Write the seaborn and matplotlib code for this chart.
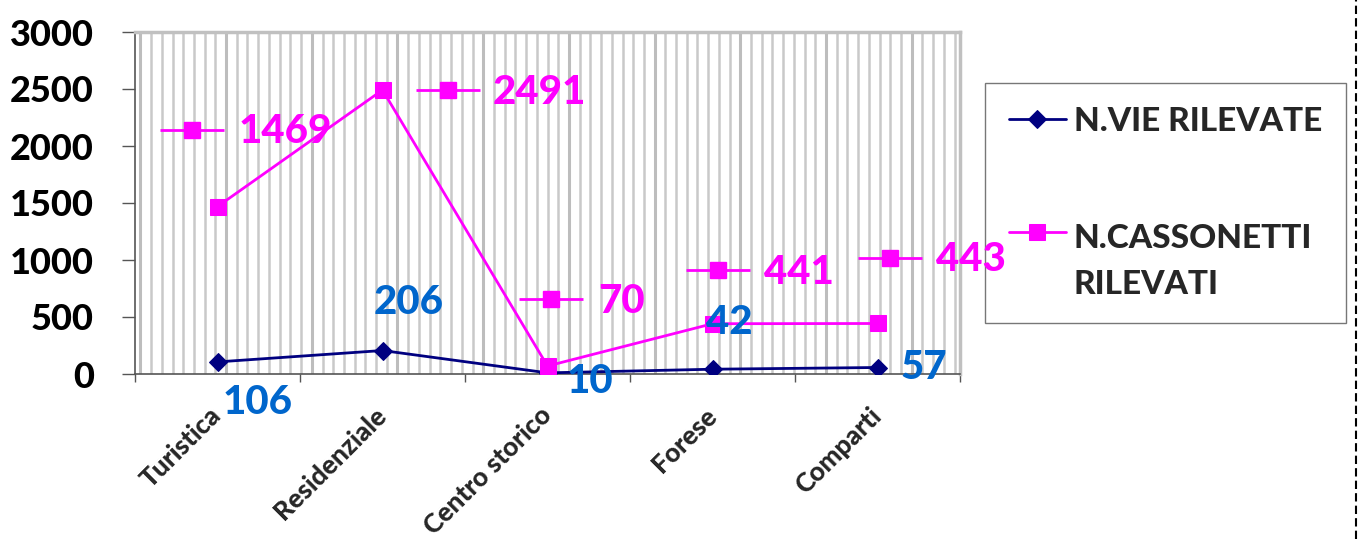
import numpy as np
import pandas as pd
import matplotlib
matplotlib.use("Agg")
import matplotlib.pyplot as plt
import matplotlib.transforms as mtransforms
from matplotlib.legend_handler import HandlerLine2D
import seaborn as sns

categories = ["Turistica", "Residenziale", "Centro storico", "Forese", "Comparti"]
vie = [106, 206, 10, 42, 57]
cassonetti = [1469, 2491, 70, 441, 443]
series_names = ["N.VIE RILEVATE", "N.CASSONETTI\nRILEVATI"]
yticks = [0, 500, 1000, 1500, 2000, 2500, 3000]

# label offsets in pixels (style only)
pink_key_off = [(-26, 77), (65, 0), (3, 67), (5, 54), (12, 65)]
pink_txt_off = [(21, 75), (110, -2), (51, 65), (51, 51), (58, 64)]
blue_txt_off = [(5, -41), (-9, 48), (19, -9), (-7, 47), (23, 0)]

FONT = "Lato"
NAVY = "#000080"
PINK = "#FF00FF"
BLUE = "#0066CC"
W8 = "black"

sns.set_theme(style="white")
plt.rcParams["font.family"] = [FONT, "DejaVu Sans"]
plt.rcParams["font.weight"] = "bold"

W, H = 1359, 539
fig = plt.figure(figsize=(W / 100, H / 100), dpi=100)
ax = fig.add_axes([135 / W, 1 - 374 / H, 825 / W, 342 / H])

df = pd.DataFrame({"cat": categories, "vie": vie, "cass": cassonetti})

# striped background
n_str = 77
xs = (np.arange(n_str) + 0.5) / n_str
ax.vlines(xs, 0, 1, transform=ax.transAxes, colors="#c9c9c9", lw=1.8, zorder=0)
ax.vlines(xs[::8], 0, 1, transform=ax.transAxes, colors="#bdbdbd", lw=2.2, zorder=0)

sns.lineplot(data=df, x="cat", y="vie", ax=ax, color=NAVY, lw=2, marker="D",
             markersize=9, markeredgecolor=NAVY, sort=False, label=series_names[0], zorder=3)
sns.lineplot(data=df, x="cat", y="cass", ax=ax, color=PINK, lw=2, marker="s",
             markersize=11, markeredgecolor=PINK, sort=False, label=series_names[1], zorder=3)

ax.set_xlim(-0.5, 4.5)
ax.set_ylim(0, 3000)
ax.set_xlabel("")
ax.set_ylabel("")
ax.set_yticks(yticks)
ax.set_yticklabels([str(v) for v in yticks], fontsize=26, fontweight=W8, color="black")
ax.tick_params(axis="y", direction="out", length=9.5, width=1, color="#555555", pad=20, left=True)
ax.set_xticks(range(len(categories)))
ax.set_xticklabels(categories, rotation=45, ha="right", va="center",
                   rotation_mode="anchor", fontsize=19, fontweight=W8)
ax.tick_params(axis="x", which="major", length=0, pad=27)
ax.set_xticks(np.arange(-0.5, 5, 1), minor=True)
ax.tick_params(axis="x", which="minor", direction="out", length=6, width=1, color="#555555", bottom=True)

for s in ["left", "bottom"]:
    ax.spines[s].set_color("#555555")
    ax.spines[s].set_linewidth(1.2)
for s in ["top", "right"]:
    ax.spines[s].set_color("#c0c0c0")
    ax.spines[s].set_linewidth(2.5)

# data labels
for i, (v, c) in enumerate(zip(cassonetti, categories)):
    kx, ky = pink_key_off[i]
    tr = mtransforms.offset_copy(ax.transData, fig=fig, x=kx, y=ky, units="dots")
    ax.plot([i], [v], transform=tr, marker="_", markersize=46, markeredgewidth=2,
            color=PINK, clip_on=False, zorder=7)
    ax.plot([i], [v], transform=tr, marker="s", markersize=11, color=PINK,
            clip_on=False, zorder=8)
    tx, ty = pink_txt_off[i]
    ax.annotate(str(v), (i, v), xytext=(tx, ty), textcoords="offset pixels",
                ha="left", va="center", color=PINK, fontsize=29, fontweight=W8,
                annotation_clip=False, zorder=9)

for i, v in enumerate(vie):
    tx, ty = blue_txt_off[i]
    ax.annotate(str(v), (i, v), xytext=(tx, ty), textcoords="offset pixels",
                ha="left", va="center", color=BLUE, fontsize=29, fontweight=W8,
                annotation_clip=False, zorder=9)


class ShiftedHandler(HandlerLine2D):
    def __init__(self, shift, **kw):
        super().__init__(**kw)
        self.shift = shift

    def create_artists(self, legend, orig_handle, xdescent, ydescent, width,
                       height, fontsize, trans):
        arts = super().create_artists(legend, orig_handle, xdescent, ydescent,
                                      width, height, fontsize, trans)
        for a in arts:
            a.set_ydata(np.asarray(a.get_ydata(), dtype=float) + self.shift)
        return arts


ax.legend_.remove()
handles, labels = ax.get_legend_handles_labels()
leg = ax.legend(handles, labels, loc="upper left", bbox_to_anchor=(985 / W, 1 - 83 / H),
                bbox_transform=fig.transFigure,
                frameon=True, fancybox=False, edgecolor="#555555",
                prop={"weight": W8, "size": 24, "family": [FONT, "DejaVu Sans"]},
                handlelength=1.7, handletextpad=0.25, labelspacing=2.65,
                borderpad=0.72, borderaxespad=0,
                handler_map={handles[1]: ShiftedHandler(shift=21.5)})
leg.set_zorder(5)
leg.get_frame().set_linewidth(1)
for t in leg.get_texts():
    t.set_linespacing(1.68)

# outer dashed border on right edge
fig.add_artist(plt.Line2D([1356 / W, 1356 / W], [0, 1], color="black", lw=1.5,
                          ls=(0, (4, 2)), transform=fig.transFigure))

fig.savefig("out.png", dpi=100)
